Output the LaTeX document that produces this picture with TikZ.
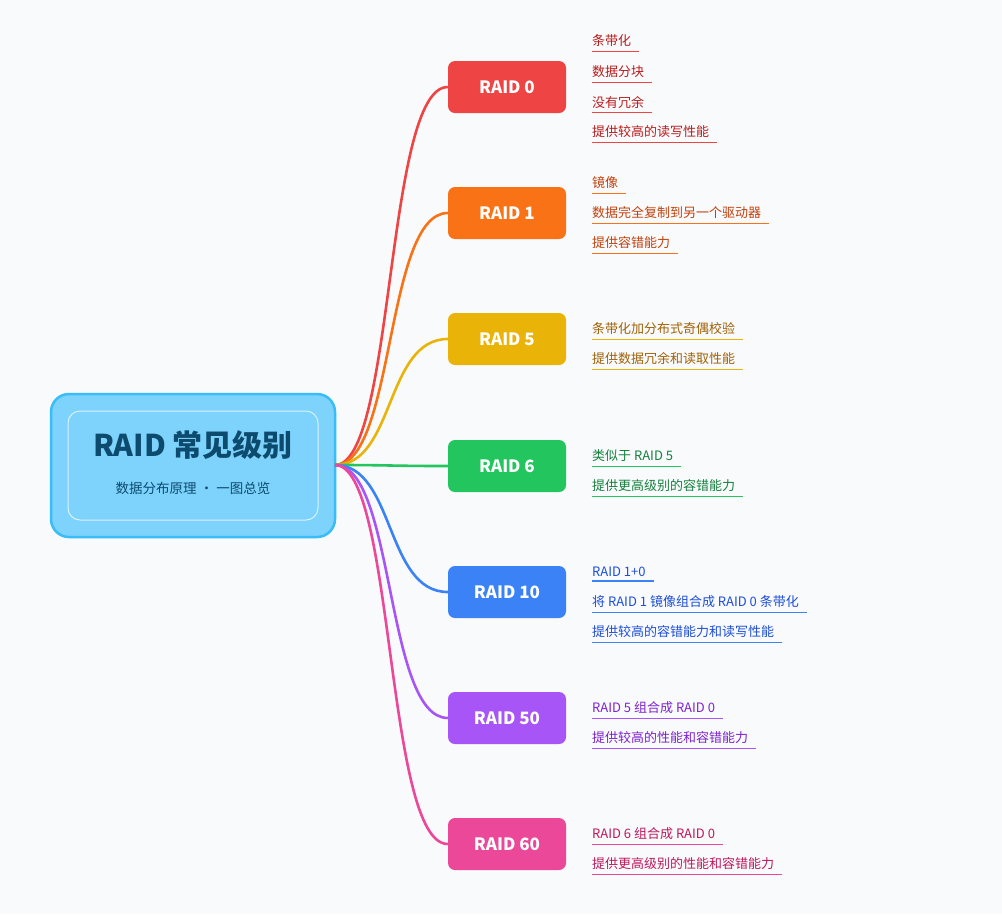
\documentclass[tikz,border=0pt]{standalone}
\usepackage{fontspec}
\setmainfont{Noto Sans CJK SC}
\definecolor{bg}{HTML}{F8FAFC}
\definecolor{cR}{HTML}{EF4444}\definecolor{dR}{HTML}{B91C1C}
\definecolor{cO}{HTML}{F97316}\definecolor{dO}{HTML}{C2410C}
\definecolor{cY}{HTML}{EAB308}\definecolor{dY}{HTML}{A16207}
\definecolor{cG}{HTML}{22C55E}\definecolor{dG}{HTML}{15803D}
\definecolor{cB}{HTML}{3B82F6}\definecolor{dB}{HTML}{1D4ED8}
\definecolor{cP}{HTML}{A855F7}\definecolor{dP}{HTML}{7E22CE}
\definecolor{cK}{HTML}{EC4899}\definecolor{dK}{HTML}{BE185D}
\definecolor{rootfill}{HTML}{7DD3FC}\definecolor{rootdraw}{HTML}{38BDF8}
\definecolor{roottext}{HTML}{0C4A6E}
\newcommand{\myleaf}[5]{%
  \node[leaf,text=#4] (#1) at (592,#2) {#3};
  \draw[#5,line width=1.3pt] (#1.south west) -- ([xshift=8pt]#1.south east);}
\begin{document}
\begin{tikzpicture}[x=1pt,y=-1pt,
  branch/.style={rounded corners=7pt,minimum width=118pt,minimum height=52pt,text=white,font=\fontsize{17}{20}\selectfont\bfseries,inner sep=0pt},
  leaf/.style={anchor=west,inner xsep=0pt,inner ysep=4pt,font=\fontsize{13}{15}\selectfont},
  conn/.style={line width=2.6pt}]
\fill[bg] (0,0) rectangle (1002,914);
\node[draw=rootdraw,line width=2.5pt,fill=rootfill,rounded corners=18pt,minimum width=284pt,minimum height=143pt] (root) at (193,465.5) {};
\node[draw=white!70!rootfill,line width=1pt,rounded corners=12pt,minimum width=250pt,minimum height=109pt] (rin) at (193,465.5) {};
\node[text=roottext,font=\fontsize{30}{34}\selectfont\bfseries] (title) at (193,445) {RAID 常见级别};
\node[text=roottext,font=\fontsize{13.5}{16}\selectfont] (sub) at (193,488) {数据分布原理 · 一图总览};
\coordinate (o) at (335,465);
\foreach \n/\y/\c in {r0/87/cR,r1/213/cO,r5/339/cY,r6/466/cG,r10/592/cB,r50/718/cP,r60/844/cK}{
  \node[branch,fill=\c] (\n) at (507,\y) {};
  \draw[conn,\c] (o) .. controls (395,465) and (385,\y) .. (\n.west);
}
\node[text=white,font=\fontsize{17}{20}\selectfont\bfseries] at (r0) {RAID 0};
\node[text=white,font=\fontsize{17}{20}\selectfont\bfseries] at (r1) {RAID 1};
\node[text=white,font=\fontsize{17}{20}\selectfont\bfseries] at (r5) {RAID 5};
\node[text=white,font=\fontsize{17}{20}\selectfont\bfseries] at (r6) {RAID 6};
\node[text=white,font=\fontsize{17}{20}\selectfont\bfseries] at (r10) {RAID 10};
\node[text=white,font=\fontsize{17}{20}\selectfont\bfseries] at (r50) {RAID 50};
\node[text=white,font=\fontsize{17}{20}\selectfont\bfseries] at (r60) {RAID 60};
\myleaf{a1}{41}{条带化}{dR}{cR}
\myleaf{a2}{72}{数据分块}{dR}{cR}
\myleaf{a3}{102}{没有冗余}{dR}{cR}
\myleaf{a4}{132}{提供较高的读写性能}{dR}{cR}
\myleaf{b1}{183}{镜像}{dO}{cO}
\myleaf{b2}{213}{数据完全复制到另一个驱动器}{dO}{cO}
\myleaf{b3}{243}{提供容错能力}{dO}{cO}
\myleaf{c1}{329}{条带化加分布式奇偶校验}{dY}{cY}
\myleaf{c2}{359}{提供数据冗余和读取性能}{dY}{cY}
\myleaf{d1}{456}{类似于 RAID 5}{dG}{cG}
\myleaf{d2}{486}{提供更高级别的容错能力}{dG}{cG}
\myleaf{e1}{572}{RAID 1+0}{dB}{cB}
\myleaf{e2}{602}{将 RAID 1 镜像组合成 RAID 0 条带化}{dB}{cB}
\myleaf{e3}{632}{提供较高的容错能力和读写性能}{dB}{cB}
\myleaf{f1}{708}{RAID 5 组合成 RAID 0}{dP}{cP}
\myleaf{f2}{738}{提供较高的性能和容错能力}{dP}{cP}
\myleaf{g1}{834}{RAID 6 组合成 RAID 0}{dK}{cK}
\myleaf{g2}{864}{提供更高级别的性能和容错能力}{dK}{cK}
\end{tikzpicture}
\end{document}
